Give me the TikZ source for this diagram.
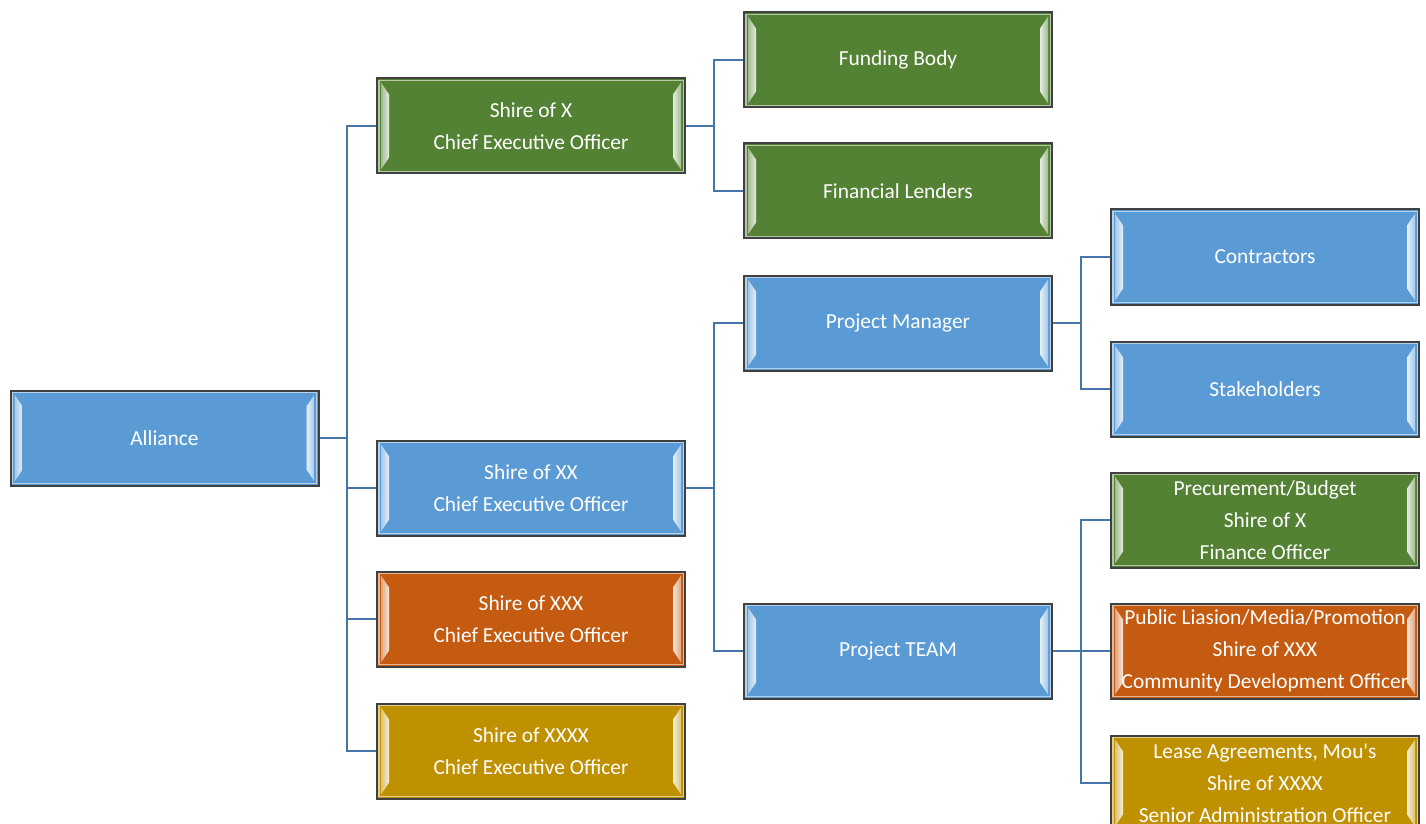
\documentclass[tikz,border=0pt]{standalone}
\usepackage{fontspec}
\setmainfont{Carlito}
\usetikzlibrary{calc}

\definecolor{boxblue}{HTML}{5B9BD5}
\definecolor{boxgreen}{HTML}{548235}
\definecolor{boxorange}{HTML}{C55A11}
\definecolor{boxgold}{HTML}{BF9000}
\definecolor{linkblue}{HTML}{4676A8}

\tikzset{
  card/.style={shape=rectangle, draw=black!75, line width=1pt, fill=#1,
    minimum width=154pt, minimum height=47.5pt, inner sep=0pt,
    align=center, text=white, font=\fontsize{10.7}{16}\selectfont,
    path picture={
      % light inner rim
      \draw[#1!45!white, line width=0.7pt]
        ($(path picture bounding box.north west)+(0.9pt,-0.9pt)$) rectangle
        ($(path picture bounding box.south east)+(-0.9pt,0.9pt)$);
      % bevel strips left and right
      \shade[left color=#1!55!white, right color=white!85!#1]
        ($(path picture bounding box.north west)+(2pt,-2pt)$) --
        ($(path picture bounding box.north west)+(6pt,-8pt)$) --
        ($(path picture bounding box.south west)+(6pt,8pt)$) --
        ($(path picture bounding box.south west)+(2pt,2pt)$) -- cycle;
      \shade[right color=#1!55!white, left color=white!85!#1]
        ($(path picture bounding box.north east)+(-2pt,-2pt)$) --
        ($(path picture bounding box.north east)+(-6pt,-8pt)$) --
        ($(path picture bounding box.south east)+(-6pt,8pt)$) --
        ($(path picture bounding box.south east)+(-2pt,2pt)$) -- cycle;
    }},
  link/.style={draw=linkblue, line width=1.2pt},
}

\begin{document}
\begin{tikzpicture}[x=0.5pt, y=-0.5pt]

	\clip (0,0) rectangle (1426,824);

	\node[card=boxblue] (alliance) at (164.5, 438) {Alliance};

	\node[card=boxgreen]  (shirex)    at (531, 126) {Shire of X\\Chief Executive Officer};
	\node[card=boxblue]   (shirexx)   at (531, 488) {Shire of XX\\Chief Executive Officer};
	\node[card=boxorange] (shirexxx)  at (531, 619) {Shire of XXX\\Chief Executive Officer};
	\node[card=boxgold]   (shirexxxx) at (531, 751) {Shire of XXXX\\Chief Executive Officer};

	\node[card=boxgreen] (funding) at (898, 60)  {Funding Body};
	\node[card=boxgreen] (lenders) at (898, 191) {Financial Lenders};
	\node[card=boxblue]  (pm)      at (898, 323) {Project Manager};
	\node[card=boxblue]  (team)    at (898, 651) {Project TEAM};

	\node[card=boxblue]   (contractors)  at (1265, 257) {Contractors};
	\node[card=boxblue]   (stakeholders) at (1265, 389) {Stakeholders};
	\node[card=boxgreen]  (budget)       at (1265, 520) {Precurement/Budget\\Shire of X\\Finance Officer};
	\node[card=boxorange] (liaison)      at (1265, 651) {Public Liasion/Media/Promotion\\Shire of XXX\\Community Development Officer};
	\node[card=boxgold]   (lease)        at (1265, 783) {Lease Agreements, Mou\textquotesingle s\\Shire of XXXX\\Senior Administration Officer};

	% branch points
	\coordinate (ba) at (347, 438);
	\coordinate (bx) at (714, 126);
	\coordinate (bxx) at (714, 488);
	\coordinate (bpm) at (1081, 323);
	\coordinate (bteam) at (1081, 651);

	\path[link] (alliance.east) -- (ba);
	\path[link] (ba) |- (shirex.west);
	\path[link] (ba) |- (shirexx.west);
	\path[link] (ba) |- (shirexxx.west);
	\path[link] (ba) |- (shirexxxx.west);

	\path[link] (shirex.east) -- (bx);
	\path[link] (bx) |- (funding.west);
	\path[link] (bx) |- (lenders.west);

	\path[link] (shirexx.east) -- (bxx);
	\path[link] (bxx) |- (pm.west);
	\path[link] (bxx) |- (team.west);

	\path[link] (pm.east) -- (bpm);
	\path[link] (bpm) |- (contractors.west);
	\path[link] (bpm) |- (stakeholders.west);

	\path[link] (team.east) -- (bteam);
	\path[link] (bteam) |- (budget.west);
	\path[link] (bteam) |- (liaison.west);
	\path[link] (bteam) |- (lease.west);

\end{tikzpicture}
\end{document}
